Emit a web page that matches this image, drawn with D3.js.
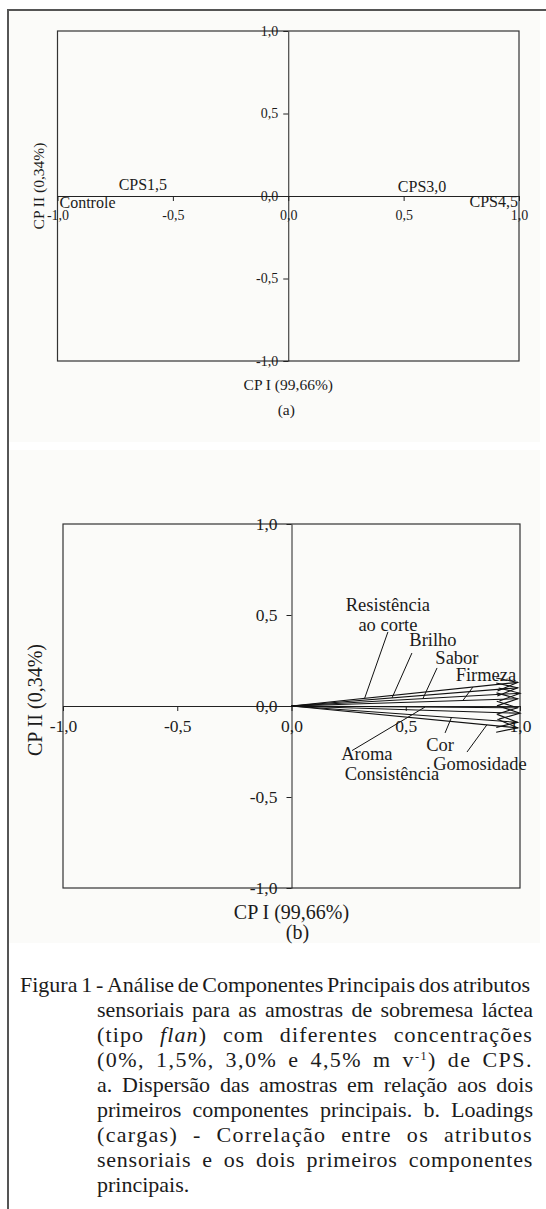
<!DOCTYPE html>
<html>
<head>
<meta charset="utf-8">
<script src="https://cdn.jsdelivr.net/npm/d3@7"></script>
<style>
  body { margin: 0; background: #fff; }
  svg { display: block; }
  text { font-family: "Liberation Serif", "Times New Roman", serif; fill: #1b1b1b; }
</style>
</head>
<body>
<svg id="fig" width="546" height="1209"></svg>
<script>

// data

const tickValues = [-1, -0.5, 0, 0.5, 1]

// (a) scores
const samples = ['Controle', 'CPS1,5', 'CPS3,0', 'CPS4,5']
const scorePC1 = [-1.0, -0.63, 0.58, 1.0]
const scorePC2 = [0, 0, 0, 0]

// (b) loadings
const attributes = ['Resistência ao corte', 'Brilho', 'Sabor', 'Firmeza', 'Aroma', 'Consistência', 'Cor', 'Gomosidade']
const loadPC1 = [0.99, 0.99, 1.0, 0.99, 0.99, 1.0, 0.99, 0.99]
const loadPC2 = [0.13, 0.10, 0.07, 0.04, -0.01, -0.04, -0.09, -0.12]

const axisTitleX = 'CP I (99,66%)'
const axisTitleY = 'CP II (0,34%)'

const caption = [
    'Figura 1 - Análise de Componentes Principais dos atributos',
    'sensoriais para as amostras de sobremesa láctea',
    '(tipo *flan*) com diferentes concentrações',
    '(0%, 1,5%, 3,0% e 4,5% m v^-1^) de CPS.',
    'a. Dispersão das amostras em relação aos dois',
    'primeiros componentes principais. b. Loadings',
    '(cargas) - Correlação entre os atributos',
    'sensoriais e os dois primeiros componentes',
    'principais.',
]

// layout (label placement, in data units)

const scoreLabelPos = {
    'Controle': { anchor: 'start', dx: 2, dy: 12 },
    'CPS1,5': { anchor: 'middle', dx: 0, dy: -6 },
    'CPS3,0': { anchor: 'middle', dx: 0, dy: -4 },
    'CPS4,5': { anchor: 'end', dx: -1, dy: 11 },
}

const loadLabelPos = {
    'Resistência ao corte': { lines: ['Resistência', 'ao corte'], x: 0.422, y: 0.555, from: [0.422, 0.407], at: 0.32 },
    'Brilho': { lines: ['Brilho'], x: 0.619, y: 0.363, from: [0.527, 0.291], at: 0.44 },
    'Sabor': { lines: ['Sabor'], x: 0.724, y: 0.264, from: [0.637, 0.209], at: 0.575 },
    'Firmeza': { lines: ['Firmeza'], x: 0.851, y: 0.17, from: [0.794, 0.104], at: 0.75 },
    'Aroma': { lines: ['Aroma'], x: 0.33, y: -0.262, from: [0.265, -0.245], at: 0.584 },
    'Consistência': { lines: ['Consistência'], x: 0.44, y: -0.375, from: null, at: 0 },
    'Cor': { lines: ['Cor'], x: 0.65, y: -0.214, from: [0.672, -0.148], at: 0.70 },
    'Gomosidade': { lines: ['Gomosidade'], x: 0.825, y: -0.319, from: [0.768, -0.253], at: 0.855 },
}

const fmt = d => d3.format('.1f')(d).replace('.', ',').replace('\u2212', '-')

const svg = d3.select('#fig')

// paper background and frame
svg.append('rect').attr('x', 9).attr('y', 11).attr('width', 531).attr('height', 431).attr('fill', '#fbfbf9')
svg.append('rect').attr('x', 9).attr('y', 450).attr('width', 531).attr('height', 493).attr('fill', '#fbfbf9')
svg.append('path')
    .attr('d', 'M8,1209 V10 H546')
    .attr('fill', 'none')
    .attr('stroke', '#555')
    .attr('stroke-width', 2)

function drawFrame(g, x, y, o) {

    // box
    g.append('rect')
        .attr('x', x.range()[0]).attr('y', y.range()[1])
        .attr('width', x.range()[1] - x.range()[0])
        .attr('height', y.range()[0] - y.range()[1])
        .attr('fill', 'none')
        .attr('stroke', '#333')
        .attr('stroke-width', 1.2)

    // x axis through 0
    const ax = g.append('g')
        .attr('transform', `translate(0,${y(0)})`)
        .call(d3.axisBottom(x).tickValues(tickValues).tickFormat(fmt).tickSize(5).tickSizeOuter(0).tickPadding(o.xPad))
    ax.select('.domain').attr('stroke', '#222')
    ax.selectAll('.tick line').attr('stroke', '#222')
    ax.selectAll('.tick text').attr('font-size', o.tickSize).attr('font-family', null).attr('fill', '#1b1b1b')

    // y axis through 0
    const ay = g.append('g')
        .attr('transform', `translate(${x(0)},0)`)
        .call(d3.axisLeft(y).tickValues(tickValues).tickFormat(fmt).tickSize(5).tickSizeOuter(0).tickPadding(o.yPad))
    ay.select('.domain').attr('stroke', '#222')
    ay.selectAll('.tick line').attr('stroke', '#222')
    ay.selectAll('.tick text').attr('font-size', o.tickSize).attr('font-family', null).attr('fill', '#1b1b1b')

    // titles
    g.append('text')
        .attr('x', x(0)).attr('y', y.range()[0] + o.titleGap)
        .attr('text-anchor', 'middle').attr('font-size', o.titleSize)
        .text(axisTitleX)
    g.append('text')
        .attr('transform', `translate(${o.yTitleX},${(y.range()[0] + y.range()[1]) / 2 + o.yTitleDy}) rotate(-90)`)
        .attr('text-anchor', 'middle').attr('font-size', o.titleSize)
        .text(axisTitleY)
    g.append('text')
        .attr('x', x(0) + o.tagDx).attr('y', y.range()[0] + o.tagGap)
        .attr('text-anchor', 'middle').attr('font-size', o.titleSize)
        .text(o.tag)
}

// (a) scores

const xa = d3.scaleLinear([-1, 1], [57.5, 519])
const ya = d3.scaleLinear([-1, 1], [361, 31])
const ga = svg.append('g')

drawFrame(ga, xa, ya, { xPad: 9, yPad: 5, tickSize: 14, titleSize: 15.5, titleGap: 29, tagGap: 54, tagDx: -2, yTitleX: 44, yTitleDy: -10, tag: '(a)' })

ga.selectAll('.score')
    .data(samples)
    .join('text')
    .attr('class', 'score')
    .attr('x', (d, i) => xa(scorePC1[i]) + scoreLabelPos[d].dx)
    .attr('y', (d, i) => ya(scorePC2[i]) + scoreLabelPos[d].dy)
    .attr('text-anchor', d => scoreLabelPos[d].anchor)
    .attr('font-size', 16)
    .text(d => d)

// (b) loadings

const xb = d3.scaleLinear([-1, 1], [63, 520])
const yb = d3.scaleLinear([-1, 1], [888, 524])
const gb = svg.append('g')

drawFrame(gb, xb, yb, { xPad: 9, yPad: 9, tickSize: 17.5, titleSize: 20, titleGap: 31, tagGap: 51, tagDx: 6, yTitleX: 42, yTitleDy: -6, tag: '(b)' })

const arrows = attributes.map((a, i) => ({ name: a, x: loadPC1[i], y: loadPC2[i] }))

gb.selectAll('.load')
    .data(arrows)
    .join('line')
    .attr('class', 'load')
    .attr('x1', xb(0)).attr('y1', yb(0))
    .attr('x2', d => xb(d.x)).attr('y2', d => yb(d.y))
    .attr('stroke', '#111')
    .attr('stroke-width', 1.1)

// open arrow heads
gb.selectAll('.head')
    .data(arrows)
    .join('path')
    .attr('class', 'head')
    .attr('d', d => {
        let x2 = xb(d.x), y2 = yb(d.y)
        let a = Math.atan2(y2 - yb(0), x2 - xb(0))
        let len = 22, w = 0.3
        let p1 = [x2 - len * Math.cos(a - w), y2 - len * Math.sin(a - w)]
        let p2 = [x2 - len * Math.cos(a + w), y2 - len * Math.sin(a + w)]
        return `M${p1}L${x2},${y2}L${p2}`
    })
    .attr('fill', 'none')
    .attr('stroke', '#111')
    .attr('stroke-width', 1.1)

// leader lines
gb.selectAll('.leader')
    .data(arrows.filter(d => loadLabelPos[d.name].from))
    .join('line')
    .attr('class', 'leader')
    .attr('x1', d => xb(loadLabelPos[d.name].from[0]))
    .attr('y1', d => yb(loadLabelPos[d.name].from[1]))
    .attr('x2', d => xb(loadLabelPos[d.name].at))
    .attr('y2', d => yb(loadLabelPos[d.name].at * d.y / d.x))
    .attr('stroke', '#111')
    .attr('stroke-width', 1)

gb.selectAll('.lab')
    .data(arrows)
    .join('text')
    .attr('class', 'lab')
    .attr('text-anchor', 'middle')
    .attr('font-size', 18.5)
    .each(function (d) {
        let p = loadLabelPos[d.name]
        let t = d3.select(this)
        p.lines.forEach((l, k) => {
            t.append('tspan')
                .attr('x', xb(p.x))
                .attr('y', yb(p.y) + 6 + k * 20)
                .text(l)
        })
    })

// caption (justified)

const capSize = 22
const capTop = 992
const capStep = 25

function addWord(g, w) {
    let t = g.append('text').attr('font-size', capSize)
    w.split(/(\*[^*]+\*|\^[^^]+\^)/).filter(s => s).forEach(s => {
        if (s[0] === '*') t.append('tspan').attr('font-style', 'italic').text(s.slice(1, -1))
        else if (s[0] === '^') t.append('tspan').attr('font-size', capSize * 0.55).attr('baseline-shift', '60%').text(s.slice(1, -1))
        else t.append('tspan').text(s)
    })
    return t
}

const gc = svg.append('g')
caption.forEach((line, i) => {
    let x0 = i === 0 ? 20 : 97
    let x1 = i === 0 ? 530 : 533
    let y = capTop + i * capStep
    let words = line.split(' ')
    let nodes = words.map(w => addWord(gc, w).attr('y', y))
    let widths = nodes.map(n => n.node().getComputedTextLength())
    let space = capSize * 0.25
    let natural = d3.sum(widths) + space * (words.length - 1)
    let justify = i < caption.length - 1 && words.length > 1
    let gap = space
    if (justify) {
        let extra = x1 - x0 - natural
        let chars = d3.sum(words, w => w.replace(/[*^]/g, '').length)
        if (extra / (words.length - 1) > capSize * 0.35) {
            // loose line: spread letters as well as words
            let ls = extra * 0.5 / chars
            nodes.forEach(n => n.attr('letter-spacing', ls))
            widths = nodes.map(n => n.node().getComputedTextLength())
        }
        gap = (x1 - x0 - d3.sum(widths)) / (words.length - 1)
    }
    let x = x0
    nodes.forEach((n, k) => {
        n.attr('x', x)
        x += widths[k] + gap
    })
})

</script>
</body>
</html>
